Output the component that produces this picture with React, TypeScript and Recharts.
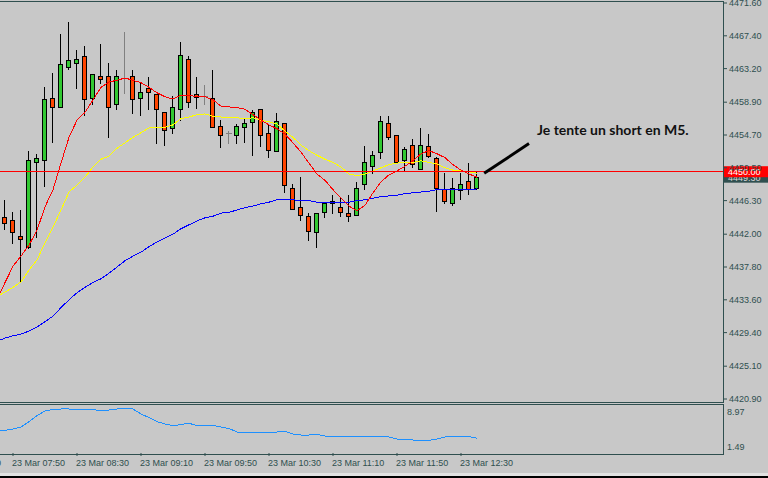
import React from 'react'
import { ComposedChart, Bar, Line, XAxis, YAxis, ReferenceLine, ReferenceDot } from 'recharts'

// M5 bars, 23 Mar 07:45 -> 12:40 (index 0..59)
const opens = [4444.2, 4443.8, 4441.8, 4440.4, 4451.2, 4451.5, 4459.4, 4458.3, 4463.4, 4463.9,
  4464.8, 4459.4, 4462.2, 4462.2, 4458.7, 4462.0, 4462.2, 4459.4, 4460.7, 4459.9,
  4457.7, 4455.6, 4458.0, 4464.4, 4459.9, 4459.7, 4459.4, 4455.9, 4454.9, 4454.7,
  4455.7, 4456.4, 4458.0, 4454.9, 4452.7, 4456.2, 4447.9, 4445.5, 4444.3, 4442.3,
  4444.9, 4446.3, 4445.5, 4444.7, 4444.4, 4448.4, 4450.7, 4452.5, 4456.2, 4454.7,
  4451.5, 4453.4, 4450.4, 4453.3, 4451.7, 4447.8, 4446.0, 4447.7, 4448.8, 4447.9]
const highs = [4446.5, 4445.0, 4445.2, 4452.8, 4452.4, 4461.0, 4462.8, 4467.8, 4469.3, 4465.7,
  4466.2, 4462.5, 4466.5, 4464.0, 4463.2, 4468.0, 4463.2, 4461.5, 4462.2, 4459.9,
  4457.7, 4459.8, 4466.7, 4464.9, 4462.2, 4461.2, 4463.2, 4456.7, 4455.4, 4456.2,
  4457.0, 4458.0, 4458.0, 4456.2, 4457.7, 4456.2, 4448.5, 4449.5, 4444.9, 4444.7,
  4446.2, 4447.1, 4446.7, 4447.1, 4448.8, 4453.4, 4452.8, 4457.2, 4457.2, 4454.7,
  4453.3, 4454.3, 4455.7, 4454.9, 4452.0, 4449.9, 4449.3, 4449.9, 4451.2, 4450.2]
const lows = [4442.7, 4440.9, 4435.9, 4440.2, 4441.7, 4448.2, 4453.8, 4458.3, 4463.2, 4460.7,
  4457.3, 4458.7, 4461.4, 4454.4, 4458.0, 4460.1, 4457.5, 4457.2, 4458.0, 4453.7,
  4453.4, 4454.9, 4456.6, 4458.3, 4458.2, 4458.7, 4455.7, 4453.2, 4453.7, 4453.7,
  4453.8, 4452.1, 4453.3, 4451.9, 4452.7, 4447.4, 4445.2, 4443.8, 4441.2, 4440.4,
  4444.2, 4444.7, 4444.3, 4443.7, 4444.4, 4447.8, 4449.8, 4451.7, 4454.2, 4451.2,
  4450.1, 4450.6, 4450.4, 4451.9, 4445.0, 4446.0, 4445.7, 4446.5, 4447.2, 4447.8]
const closes = [4443.4, 4442.3, 4441.4, 4451.5, 4451.7, 4459.3, 4458.3, 4463.8, 4464.3, 4464.4,
  4459.3, 4462.5, 4461.9, 4458.3, 4462.2, 4462.0, 4459.3, 4460.2, 4460.2, 4458.0,
  4455.4, 4458.3, 4464.9, 4458.9, 4459.6, 4459.7, 4455.7, 4454.7, 4454.9, 4455.9,
  4456.2, 4457.7, 4454.7, 4452.8, 4456.5, 4448.3, 4445.2, 4444.4, 4442.4, 4444.7,
  4446.0, 4446.0, 4444.9, 4444.3, 4447.9, 4451.2, 4452.2, 4456.5, 4454.4, 4451.2,
  4452.9, 4451.0, 4453.4, 4452.0, 4447.9, 4446.2, 4447.9, 4448.4, 4447.8, 4449.3]

// moving averages and the lower indicator, index -1..59
const redMa = [4433.6, 4435.8, 4437.9, 4439.2, 4440.6, 4442.5, 4445.5, 4447.7, 4451.1, 4454.4, 4456.6,
  4457.6, 4459.2, 4460.8, 4461.5, 4461.7, 4462.0, 4461.7, 4461.4, 4460.8, 4460.1,
  4459.6, 4459.3, 4459.8, 4459.8, 4459.6, 4459.6, 4459.2, 4458.4, 4458.3, 4458.2,
  4458.0, 4457.3, 4456.6, 4456.0, 4455.5, 4454.8, 4453.7, 4452.5, 4451.1, 4449.7,
  4448.9, 4447.7, 4446.6, 4445.6, 4445.0, 4445.7, 4447.3, 4448.7, 4449.6, 4450.1,
  4450.7, 4451.4, 4452.3, 4452.7, 4452.3, 4451.8, 4450.9, 4450.2, 4449.7, 4449.3]
const yellowMa = [4434.0, 4434.6, 4435.2, 4435.9, 4437.4, 4438.7, 4440.9, 4442.9, 4445.1, 4447.4, 4448.3,
  4449.3, 4450.6, 4451.6, 4452.0, 4453.0, 4453.7, 4454.4, 4455.0, 4455.6, 4455.7,
  4455.7, 4456.0, 4456.8, 4457.0, 4457.3, 4457.4, 4457.1, 4457.0, 4456.9, 4456.9,
  4456.8, 4456.9, 4456.6, 4456.4, 4456.1, 4455.2, 4454.4, 4453.4, 4452.7, 4452.1,
  4451.6, 4451.2, 4450.6, 4449.7, 4449.5, 4449.7, 4450.1, 4450.5, 4450.9, 4451.1,
  4451.2, 4451.2, 4451.4, 4451.2, 4451.0, 4450.5, 4450.2, 4450.1, 4450.0, 4449.8]
const blueMa = [4428.3, 4428.7, 4429.0, 4429.2, 4429.6, 4430.1, 4430.8, 4431.5, 4432.6, 4433.6, 4434.5,
  4435.2, 4435.8, 4436.3, 4437.0, 4437.8, 4438.6, 4439.2, 4439.7, 4440.4, 4441.0,
  4441.5, 4442.0, 4442.7, 4443.2, 4443.7, 4444.1, 4444.3, 4444.7, 4444.8, 4445.1,
  4445.4, 4445.6, 4445.9, 4446.1, 4446.4, 4446.4, 4446.4, 4446.3, 4446.3, 4446.1,
  4446.1, 4446.1, 4446.1, 4446.1, 4446.3, 4446.4, 4446.6, 4446.8, 4446.9, 4447.0,
  4447.2, 4447.3, 4447.4, 4447.5, 4447.7, 4447.7, 4447.7, 4447.7, 4447.7, 4447.8]
const oscValues = [4.92, 5.06, 5.33, 5.76, 6.87, 8.17, 9.12, 9.47, 9.54, 9.54, 9.33,
  9.54, 9.43, 9.12, 9.33, 9.54, 9.64, 9.54, 8.49, 7.75, 6.87,
  6.39, 6.03, 6.28, 6.53, 6.07, 5.97, 6.11, 5.76, 5.44, 4.70,
  4.70, 4.70, 4.60, 4.50, 4.70, 4.81, 4.28, 4.07, 4.07, 4.18,
  3.86, 3.72, 3.76, 3.86, 3.86, 3.86, 3.86, 3.86, 3.65, 3.23,
  3.23, 3.02, 2.96, 2.96, 3.23, 3.65, 3.72, 3.86, 3.76, 3.38]

const priceTicks = [4420.9, 4425.1, 4429.4, 4433.6, 4437.8, 4442.0, 4446.3, 4450.5, 4454.7, 4458.9, 4463.2, 4467.4, 4471.6]
const oscTicks = [1.49, 8.97]
const timeTickIdx = [-7, 1, 9, 17, 25, 33, 41, 49, 57]
const timeLabels = ['23 Mar 07:10', '23 Mar 07:50', '23 Mar 08:30', '23 Mar 09:10', '23 Mar 09:50', '23 Mar 10:30', '23 Mar 11:10', '23 Mar 11:50', '23 Mar 12:30']

const levelLine = 4450.0
const noteText = 'Je tente un short en M5.'
const notePos = { i: 66.5, price: 4454.7 }
const arrowFrom = { i: 59.9, price: 4449.8 }
const arrowTo = { i: 65.5, price: 4453.6 }

const rows = redMa.map((_, k) => {
  const i = k - 1
  const row: any = { i, red: redMa[k], yellow: yellowMa[k], blue: blueMa[k], osc: oscValues[k] }
  if (i >= 0) {
    row.open = opens[i]; row.high = highs[i]; row.low = lows[i]; row.close = closes[i]
  }
  return row
})

const AXIS = '#2f4f4f'
const FONT = "'Liberation Sans', Arial, sans-serif"
const xDomain = [-0.625, 89.75]

const Candle = (props: any) => {
  const { x, y, width, height, payload } = props
  if (payload.high == null) return null
  const top = Math.min(y, y + height)
  const h = Math.abs(height)
  const toY = (v: number) => top + (payload.high - v) / (payload.high - payload.low) * h
  const cx = Math.floor(x + width / 2) + 0.5
  const yH = Math.round(toY(payload.high)) + 0.5
  const yL = Math.round(toY(payload.low)) + 0.5
  const yO = Math.round(toY(payload.open)) + 0.5
  const yC = Math.round(toY(payload.close)) + 0.5
  if (payload.open === payload.close) {
    return (
      <g shapeRendering="crispEdges">
        <line x1={cx} x2={cx} y1={yH} y2={yL} stroke="#808080" />
        <line x1={cx - 3} x2={cx + 3} y1={yO} y2={yO} stroke="#808080" />
      </g>
    )
  }
  const bull = payload.close > payload.open
  const bTop = Math.min(yO, yC)
  const bBot = Math.max(yO, yC)
  return (
    <g shapeRendering="crispEdges">
      <line x1={cx} x2={cx} y1={yH} y2={yL} stroke="#000" />
      <rect x={cx - 2} y={bTop} width={4} height={Math.max(bBot - bTop, 0.01)} fill={bull ? '#32c832' : '#ff4500'} stroke="#000" />
    </g>
  )
}

const PriceTag = (props: any) => {
  const { viewBox, text, fill, color } = props
  const left = viewBox.x + viewBox.width + 1
  return (
    <g>
      <rect x={left} y={viewBox.y - 5.5} width={44} height={11} fill={fill} />
      <text x={left + 4} y={viewBox.y + 3.5} fontSize={9} fontFamily={FONT} fill={color}>{text}</text>
    </g>
  )
}

const NoteShape = (props: any) => (
  <text x={props.cx} y={props.cy} fontSize={14} fontWeight={700} fontFamily="Lato, sans-serif" fill="#111">{noteText}</text>
)

const TimeTick = (props: any) => {
  const { x, y, payload } = props
  const k = timeTickIdx.indexOf(payload.value)
  return (
    <text x={x - 1} y={y + 8} fontSize={9} fontFamily={FONT} fill={AXIS} textAnchor="start">{timeLabels[k]}</text>
  )
}

const line = (style: React.CSSProperties) => <div style={{ position: 'absolute', background: AXIS, ...style }} />

const App = () => {
  const last = closes[closes.length - 1]
  return (
    <div style={{ position: 'absolute', left: 0, top: 0, width: 768, height: 478, background: '#c8c8c8', overflow: 'hidden' }}>
      {line({ left: 0, top: 1, width: 724, height: 1 })}
      {line({ left: 723, top: 1, width: 1, height: 402 })}
      {line({ left: 0, top: 402, width: 724, height: 1 })}
      {line({ left: 0, top: 404, width: 724, height: 1 })}
      {line({ left: 723, top: 404, width: 1, height: 51 })}
      {line({ left: 0, top: 454, width: 724, height: 1 })}
      <div style={{ position: 'absolute', left: 0, top: 473, width: 768, height: 3, background: '#e2e2e2' }} />
      <div style={{ position: 'absolute', left: 0, top: 476, width: 768, height: 2, background: '#000' }} />

      <div style={{ position: 'absolute', left: 0, top: 0 }}>
        <ComposedChart width={768} height={478} data={rows} margin={{ top: 3, right: 0, bottom: 79, left: 0 }}>
          <XAxis dataKey="i" type="number" domain={xDomain} allowDataOverflow hide />
          <YAxis orientation="right" width={45} domain={[4420.9, 4471.6]} allowDataOverflow ticks={priceTicks} interval={0}
            tickSize={4} tickMargin={2} axisLine={false} tickLine={{ stroke: AXIS }}
            tick={{ fontSize: 9, fontFamily: FONT, fill: AXIS, textAnchor: 'start' }}
            tickFormatter={(v: number) => v.toFixed(2)} />
          <Line dataKey="blue" stroke="#0000ff" strokeWidth={1} dot={false} shapeRendering="crispEdges" isAnimationActive={false} />
          <Line dataKey="yellow" stroke="#ffff00" strokeWidth={1} dot={false} shapeRendering="crispEdges" isAnimationActive={false} />
          <Line dataKey="red" stroke="#ff0000" strokeWidth={1} dot={false} shapeRendering="crispEdges" isAnimationActive={false} />
          <Bar dataKey={(d: any) => (d.high != null ? [d.low, d.high] : null)} barSize={5} shape={<Candle />} isAnimationActive={false} />
          <ReferenceLine y={last} stroke="none" label={<PriceTag text={last.toFixed(2)} fill="#2f4f4f" color="#d8d8d8" />} />
          <ReferenceLine y={levelLine} stroke="#ff0000" shapeRendering="crispEdges" label={<PriceTag text={levelLine.toFixed(2)} fill="#ff0000" color="#ffffff" />} />
          <ReferenceLine segment={[{ x: arrowFrom.i, y: arrowFrom.price }, { x: arrowTo.i, y: arrowTo.price }]} stroke="#000" strokeWidth={3} ifOverflow="visible" />
          <ReferenceDot x={notePos.i} y={notePos.price} r={0} shape={NoteShape} ifOverflow="visible" />
        </ComposedChart>
      </div>

      <div style={{ position: 'absolute', left: 0, top: 0 }}>
        <ComposedChart width={768} height={478} data={rows} margin={{ top: 405, right: 0, bottom: 0, left: 0 }}>
          <XAxis dataKey="i" type="number" domain={xDomain} allowDataOverflow height={25} ticks={timeTickIdx} interval={0}
            axisLine={false} tickSize={3} tickLine={{ stroke: AXIS }} tick={<TimeTick />} />
          <YAxis orientation="right" width={45} domain={[0.29, 10.38]} allowDataOverflow ticks={oscTicks} interval={0}
            tickSize={0} tickMargin={4} axisLine={false} tickLine={false}
            tick={{ fontSize: 9, fontFamily: FONT, fill: AXIS, textAnchor: 'start' }}
            tickFormatter={(v: number) => v.toFixed(2)} />
          <Line dataKey="osc" stroke="#1e90ff" strokeWidth={1} dot={false} shapeRendering="crispEdges" isAnimationActive={false} />
        </ComposedChart>
      </div>
    </div>
  )
}

export default App
